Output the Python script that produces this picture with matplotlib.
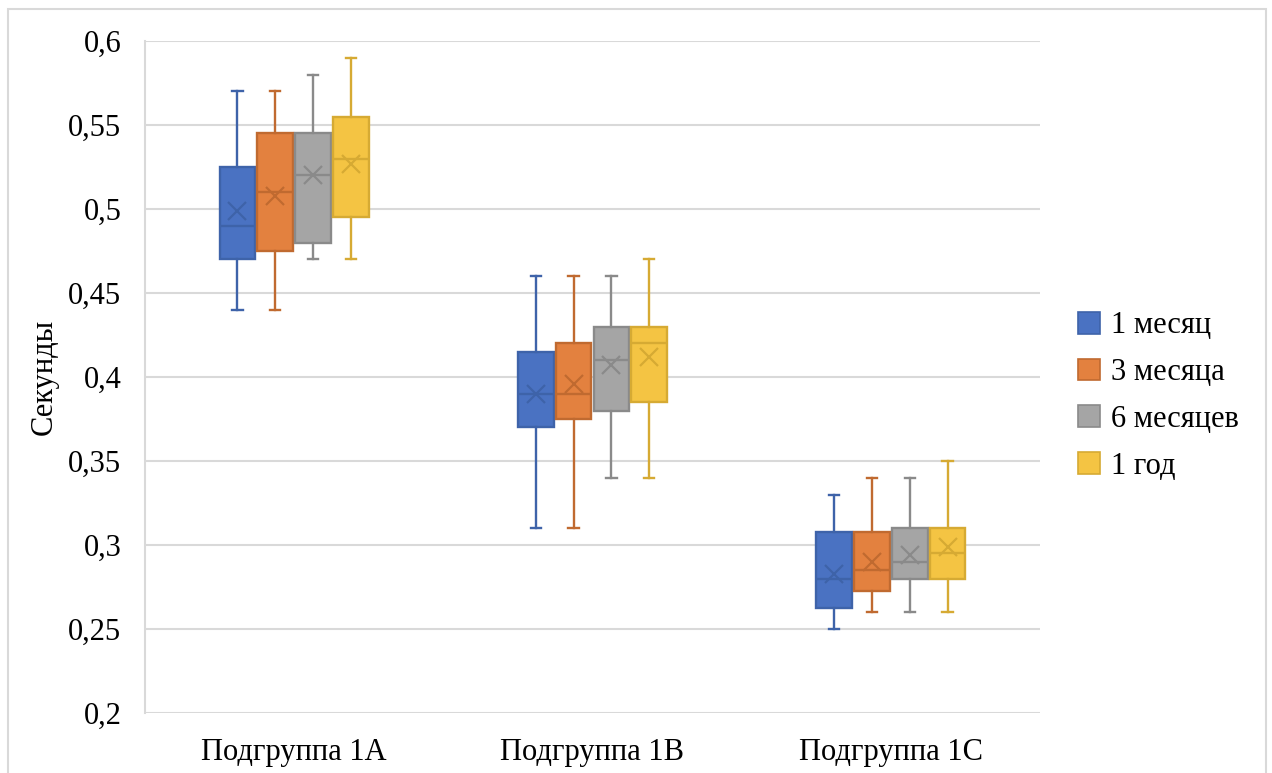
import numpy as np
import matplotlib
matplotlib.use("Agg")
import matplotlib.pyplot as plt
from matplotlib.patches import Patch, Rectangle

# Подгруппы и периоды наблюдения
подгруппы = ["Подгруппа 1А", "Подгруппа 1В", "Подгруппа 1С"]
периоды = ["1 месяц", "3 месяца", "6 месяцев", "1 год"]

# Статистики ящиков: строки - подгруппы, столбцы - периоды
минимум = [[0.44, 0.44, 0.47, 0.47],
           [0.31, 0.31, 0.34, 0.34],
           [0.25, 0.26, 0.26, 0.26]]
квартиль1 = [[0.470, 0.475, 0.480, 0.495],
             [0.370, 0.375, 0.380, 0.385],
             [0.2625, 0.2725, 0.280, 0.280]]
медиана = [[0.490, 0.510, 0.520, 0.530],
           [0.390, 0.390, 0.410, 0.420],
           [0.280, 0.285, 0.290, 0.295]]
квартиль3 = [[0.525, 0.545, 0.545, 0.555],
             [0.415, 0.420, 0.430, 0.430],
             [0.3075, 0.3075, 0.310, 0.310]]
максимум = [[0.57, 0.57, 0.58, 0.59],
            [0.46, 0.46, 0.46, 0.47],
            [0.33, 0.34, 0.34, 0.35]]
среднее = [[0.499, 0.508, 0.520, 0.527],
           [0.390, 0.396, 0.407, 0.412],
           [0.283, 0.290, 0.294, 0.299]]

заливка = ["#4A72C2", "#E3813F", "#A5A5A5", "#F4C443"]
контур = ["#3E63A9", "#C06A30", "#8A8A8A", "#D6AA33"]

plt.rcParams['font.family'] = ['Liberation Serif', 'DejaVu Serif']

fig = plt.figure(figsize=(12.72, 7.73), dpi=100)
# рамка вокруг всей диаграммы
fig.patches.append(Rectangle((8 / 1272, -0.02), 1258 / 1272, 1.02 - 9 / 773,
                             transform=fig.transFigure, fill=False,
                             edgecolor="#D9D9D9", linewidth=1.5))
ax = fig.add_axes([145 / 1272, 1 - 713 / 773, 895 / 1272, 672 / 773])

сдвиги = [-0.19, -0.0635, 0.0635, 0.19]
ширина = 0.12

for j in range(len(периоды)):
    stats = []
    for i in range(len(подгруппы)):
        stats.append(dict(whislo=минимум[i][j], q1=квартиль1[i][j], med=медиана[i][j],
                          q3=квартиль3[i][j], whishi=максимум[i][j], mean=среднее[i][j],
                          fliers=[]))
    pos = np.arange(len(подгруппы)) + сдвиги[j]
    ax.bxp(stats, positions=pos, widths=ширина, patch_artist=True, showmeans=True,
           capwidths=0.035, manage_ticks=False,
           boxprops=dict(facecolor=заливка[j], edgecolor=контур[j], linewidth=1.7),
           medianprops=dict(color=контур[j], linewidth=1.7),
           whiskerprops=dict(color=контур[j], linewidth=1.7),
           capprops=dict(color=контур[j], linewidth=1.7),
           meanprops=dict(marker='x', markeredgecolor=контур[j], markersize=13,
                          markeredgewidth=1.6))

ax.set_xlim(-0.5, 2.5)
ax.set_ylim(0.2, 0.6)
ax.set_xticks(range(len(подгруппы)))
ax.set_xticklabels(подгруппы)
yt = np.arange(0.2, 0.601, 0.05)
ax.set_yticks(yt)
ax.set_yticklabels([f"{v:.2f}".rstrip('0').replace('.', ',') for v in yt])
ax.tick_params(axis='both', length=0, labelsize=22, colors='black')
ax.tick_params(axis='y', pad=17)
ax.tick_params(axis='x', pad=18)
ax.grid(axis='y', color='#D9D9D9', linewidth=1.5)
ax.set_axisbelow(True)
for s in ['top', 'right', 'bottom']:
    ax.spines[s].set_visible(False)
ax.spines['left'].set_color('#D9D9D9')
ax.spines['left'].set_linewidth(1.5)
ax.set_ylabel("Секунды", fontsize=22, labelpad=7)

ручки = [Patch(facecolor=заливка[k], edgecolor=контур[k], linewidth=1.2) for k in range(4)]
fig.legend(ручки, периоды, loc='center left', bbox_to_anchor=(1078 / 1272, 1 - 396 / 773),
           frameon=False, fontsize=22, handlelength=0.72, handleheight=0.72,
           labelspacing=0.58, handletextpad=0.35, borderpad=0, borderaxespad=0)

fig.savefig("out.png", dpi=100)
